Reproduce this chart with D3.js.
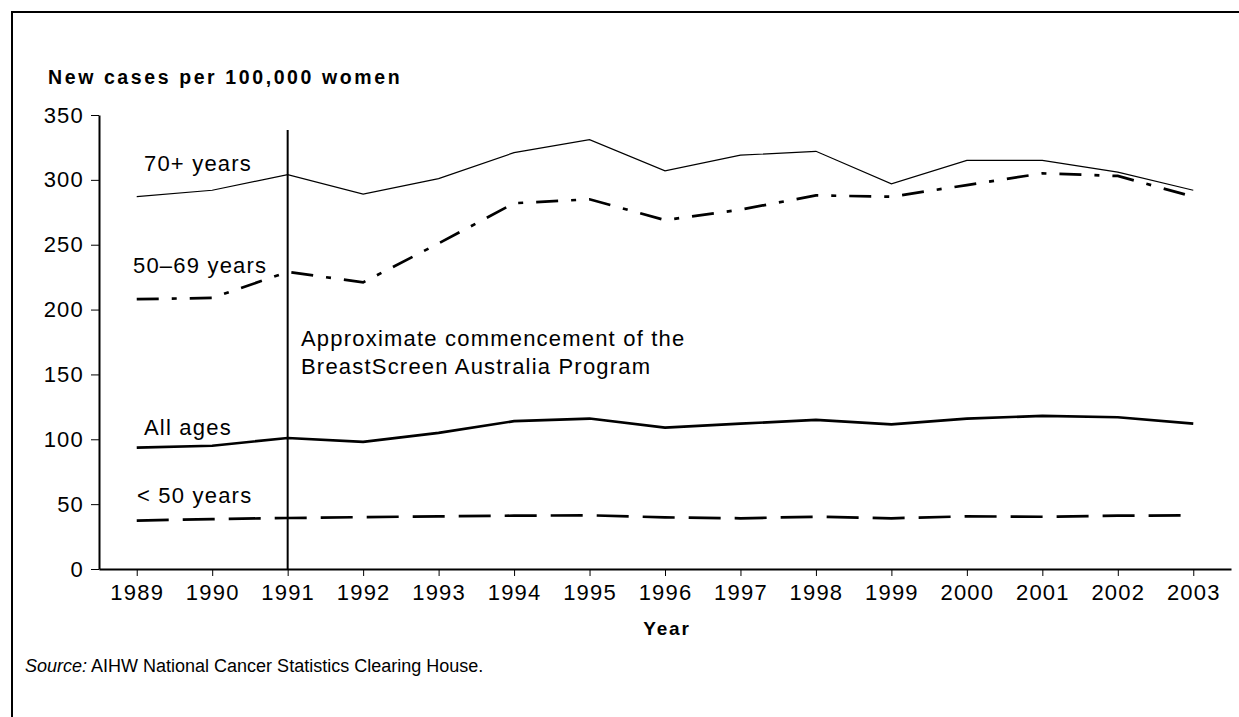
<!DOCTYPE html>
<html>
<head>
<meta charset="utf-8">
<script src="https://cdn.jsdelivr.net/npm/d3@7"></script>
<style>
  body { margin: 0; background: #fff; }
  svg { display: block; font-family: Arial, "Liberation Sans", sans-serif; }
</style>
</head>
<body>
<svg id="chart" width="1239" height="717"></svg>
<script>
const years = [1989, 1990, 1991, 1992, 1993, 1994, 1995, 1996, 1997, 1998, 1999, 2000, 2001, 2002, 2003];
const age70plus = [287, 292, 304, 289, 301, 321, 331, 307, 319, 322, 297, 315, 315, 306, 292];
const age50to69 = [208, 209, 229, 221, 251, 282, 285, 269, 277, 288, 287, 296, 305, 303, 287];
const allAges   = [93.5, 95, 101, 98, 105, 114, 116, 109, 112, 115, 111.5, 116, 118, 117, 112];
const under50   = [37.3, 38.5, 39.3, 40, 40.6, 41.1, 41.4, 39.8, 39.1, 40.3, 39.1, 40.6, 40.3, 41.1, 41.4];
const yTicks = [0, 50, 100, 150, 200, 250, 300, 350];

const svg = d3.select('#chart');

// frame round the figure
svg.append('rect')
    .attr('x', 12).attr('y', 12)
    .attr('width', 1250).attr('height', 730)
    .attr('fill', 'none')
    .attr('stroke', '#000')
    .attr('stroke-width', 2);

const x = d3.scalePoint().domain(years).range([99, 1231]).padding(0.5);
const y = d3.scaleLinear().domain([0, 350]).range([569, 115]);

// axes
const xAxis = svg.append('g')
    .attr('transform', `translate(0,${y(0)})`)
    .call(d3.axisBottom(x).tickSize(7).tickSizeOuter(0).tickPadding(8));
const yAxis = svg.append('g')
    .attr('transform', `translate(${x.range()[0]},0)`)
    .call(d3.axisLeft(y).tickValues(yTicks).tickSize(8).tickSizeOuter(0).tickPadding(7));

[xAxis, yAxis].forEach(ax => {
    ax.select('.domain').attr('stroke', '#000').attr('stroke-width', 2);
    ax.selectAll('.tick line').attr('stroke', '#000').attr('stroke-width', 1);
    ax.selectAll('.tick text')
        .attr('fill', '#000')
        .style('font-size', '22px')
        .style('letter-spacing', '1.2px');
});

// axis titles
svg.append('text')
    .attr('x', 48).attr('y', 84)
    .style('font-size', '19.5px')
    .style('font-weight', 'bold')
    .style('letter-spacing', '2.6px')
    .text('New cases per 100,000 women');

svg.append('text')
    .attr('x', 667).attr('y', 635)
    .attr('text-anchor', 'middle')
    .style('font-size', '19px')
    .style('font-weight', 'bold')
    .style('letter-spacing', '1.8px')
    .text('Year');

// BreastScreen start marker
svg.append('line')
    .attr('x1', x(1991)).attr('x2', x(1991))
    .attr('y1', 130).attr('y2', y(0))
    .attr('stroke', '#000')
    .attr('stroke-width', 2);

svg.append('text')
    .attr('x', 301).attr('y', 346)
    .style('font-size', '22px')
    .style('letter-spacing', '1.2px')
    .selectAll('tspan')
    .data(['Approximate commencement of the', 'BreastScreen Australia Program'])
    .join('tspan')
    .attr('x', 301)
    .attr('dy', (d, i) => i === 0 ? 0 : 28)
    .text(d => d);

// series lines
const series = [
    { name: '70+ years',   values: age70plus, width: 1.2, dash: null,           lx: 144, ly: 171 },
    { name: '50\u201369 years', values: age50to69, width: 2.7, dash: '22,13,5,13', lx: 133, ly: 273 },
    { name: 'All ages',    values: allAges,   width: 2.7, dash: null,           lx: 144, ly: 435 },
    { name: '< 50 years',  values: under50,   width: 2.7, dash: '32,14',        lx: 137, ly: 503 }
];

const line = d3.line()
    .x((d, i) => x(years[i]))
    .y(d => y(d));

series.forEach(s => {
    svg.append('path')
        .datum(s.values)
        .attr('d', line)
        .attr('fill', 'none')
        .attr('stroke', '#000')
        .attr('stroke-width', s.width)
        .attr('stroke-dasharray', s.dash);

    svg.append('text')
        .attr('x', s.lx).attr('y', s.ly)
        .style('font-size', '22px')
        .style('letter-spacing', '1.2px')
        .text(s.name);
});

// source note
const src = svg.append('text')
    .attr('x', 25).attr('y', 672)
    .style('font-size', '18px');
src.append('tspan').style('font-style', 'italic').text('Source:');
src.append('tspan').text(' AIHW National Cancer Statistics Clearing House.');
</script>
</body>
</html>
